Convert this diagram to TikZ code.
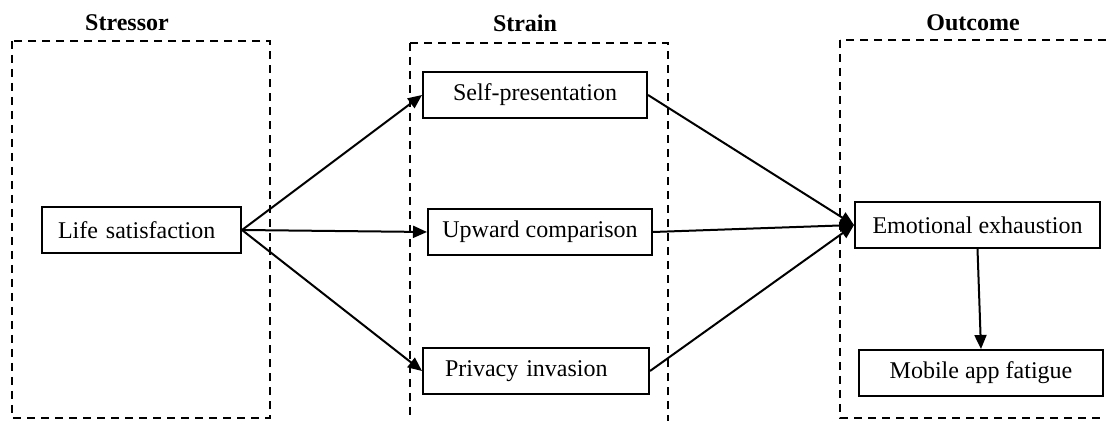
\documentclass[tikz,border=0pt]{standalone}
\usepackage{fontspec}
\setmainfont{Liberation Serif}
\usetikzlibrary{arrows.meta,positioning}

\begin{document}
\begin{tikzpicture}[x=0.5pt,y=-0.5pt,
  box/.style={draw,line width=1pt,minimum height=23pt,inner sep=2pt,font=\fontsize{12}{14}\selectfont},
  lefttext/.style={align=left,inner xsep=#1},
  stage/.style={draw,dash pattern=on 4pt off 3pt,line width=1.2pt},
  title/.style={font=\fontsize{12}{14}\selectfont\bfseries},
  link/.style={-{Triangle[length=7pt,width=6pt]},line width=1pt}]
\useasboundingbox (0,0) rectangle (1106,421);
\clip (0,0) rectangle (1106,421);

% stages
\draw[stage] (12,41) rectangle (270,418);
\draw[stage] (410,43) rectangle (668,440);
\draw[stage] (840,40) rectangle (1120,418);
\node[title] (stressor) at (127,23) {Stressor};
\node[title] (strain) at (525,23) {Strain};
\node[title] (outcome) at (973,23) {Outcome};

% variables
\node[box,lefttext=8pt,text width=83.5pt] (life) at (141.5,230) {Life satisfaction};
\node[box,minimum width=112pt] (selfpres) at (535,95) {Self-presentation};
\node[box,minimum width=112pt] (upward) at (540,232) {Upward comparison};
\node[box,lefttext=11pt,text width=91pt] (privacy) at (536,371) {Privacy invasion};
\node[box,minimum width=122.5pt] (exhaust) at (977.5,225) {Emotional exhaustion};
\node[box,minimum width=122pt] (fatigue) at (981,373) {Mobile app fatigue};

% paths
\draw[link] (life.east) -- (selfpres.west);
\draw[link] (life.east) -- (upward.west);
\draw[link] (life.east) -- (privacy.west);
\draw[link] (selfpres.east) -- (exhaust.west);
\draw[link] (upward.east) -- (exhaust.west);
\draw[link] (privacy.east) -- (exhaust.west);
\draw[link] (exhaust.south) -- (fatigue.north);
\end{tikzpicture}
\end{document}
